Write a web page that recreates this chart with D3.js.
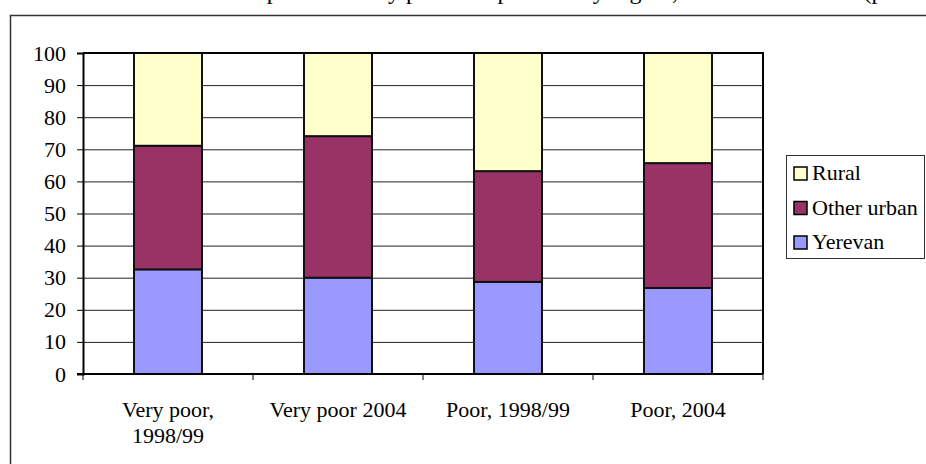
<!DOCTYPE html>
<html><head><meta charset="utf-8">
<script src="https://cdn.jsdelivr.net/npm/d3@7"></script>
<style>body{margin:0;background:#fff}svg{display:block}text{font-family:"Liberation Serif","Times New Roman",serif}</style>
</head><body><svg id="c" width="926" height="464"></svg>
<script>
const categories = ["Very poor, 1998/99", "Very poor 2004", "Poor, 1998/99", "Poor, 2004"];
const categoryLines = [["Very poor,", "1998/99"], ["Very poor 2004"], ["Poor, 1998/99"], ["Poor, 2004"]];
const seriesNames = ["Yerevan", "Other urban", "Rural"];
const yerevan = [32.6, 30.0, 28.7, 26.8];
const otherUrban = [38.5, 44.1, 34.5, 38.9];
const rural = [28.9, 25.9, 36.8, 34.3];
const colors = ["#9999FF", "#993366", "#FFFFCC"];
const yTicks = [0, 10, 20, 30, 40, 50, 60, 70, 80, 90, 100];
const titleText = "Table 3. The poor and very poor composition by region, 1998/99 and 2004 (percent)";

const FONT = "Liberation Serif, Times New Roman, serif";
const FS = 22;
const svg = d3.select("#c");
const L = 83, R = 763, T = 53, B = 374;

// title (mostly cut off above the image, as in the reference)
svg.append("text").attr("x", 950).attr("y", -1).attr("text-anchor", "end")
  .attr("font-family", FONT).attr("font-size", 24).attr("fill", "#000").text(titleText);

// outer chart border
svg.append("path").attr("d", "M10.5,470 V15.5 H930").attr("fill", "none")
  .attr("stroke", "#333").attr("stroke-width", 1.5);

const x = d3.scaleBand().domain(categories).range([L, R]).paddingInner(0.6).paddingOuter(0.3);
const y = d3.scaleLinear().domain([0, 100]).range([B, T]);

// gridlines
svg.append("g").selectAll("line").data(yTicks.filter(t => t > 0 && t < 100)).join("line")
  .attr("x1", L).attr("x2", R).attr("y1", d => y(d) + 0.5).attr("y2", d => y(d) + 0.5)
  .attr("stroke", "#222").attr("stroke-width", 1);

// stacked data
const rows = categories.map((c, i) => ({cat: c, "Yerevan": yerevan[i], "Other urban": otherUrban[i], "Rural": rural[i]}));
const stack = d3.stack().keys(seriesNames)(rows);
const gBars = svg.append("g");
stack.forEach((s, si) => {
  gBars.selectAll(null).data(s).join("rect")
    .attr("x", d => x(d.data.cat))
    .attr("width", x.bandwidth())
    .attr("y", d => y(d[1]))
    .attr("height", d => y(d[0]) - y(d[1]))
    .attr("fill", colors[si]).attr("stroke", "#111").attr("stroke-width", 2);
});

// plot border (top, right)
svg.append("path").attr("d", `M${L},${T} H${R} V${B}`).attr("fill", "none")
  .attr("stroke", "#000").attr("stroke-width", 2);

// y axis
const yAxis = svg.append("g").attr("transform", `translate(${L},0)`)
  .call(d3.axisLeft(y).tickValues(yTicks).tickSize(6).tickPadding(11));
yAxis.attr("font-family", FONT).attr("font-size", FS);
yAxis.select(".domain").attr("stroke", "#000").attr("stroke-width", 2);
yAxis.selectAll(".tick line").attr("stroke", "#000");
yAxis.selectAll(".tick text").attr("font-size", FS).attr("font-family", FONT).attr("fill", "#000");

// x axis
const xAxis = svg.append("g").attr("transform", `translate(0,${B})`);
xAxis.append("line").attr("x1", L - 6).attr("x2", R).attr("y1", 0).attr("y2", 0)
  .attr("stroke", "#000").attr("stroke-width", 2);
const bTicks = [L].concat(categories.slice(1).map(c => x(c) - (x.step() - x.bandwidth()) / 2)).concat([R]);
xAxis.selectAll("line.t").data(bTicks).join("line").attr("class", "t")
  .attr("x1", d => d).attr("x2", d => d).attr("y1", 0).attr("y2", 6)
  .attr("stroke", "#000").attr("stroke-width", 1);
categories.forEach((c, i) => {
  const cx = x(c) + x.bandwidth() / 2;
  const t = xAxis.append("text").attr("text-anchor", "middle").attr("font-family", FONT)
    .attr("font-size", FS).attr("fill", "#000").attr("x", cx).attr("y", 43);
  categoryLines[i].forEach((ln, j) => t.append("tspan").attr("x", cx).attr("dy", j ? 26 : 0).text(ln));
});

// legend
const lg = svg.append("g");
lg.append("rect").attr("x", 786.5).attr("y", 155.5).attr("width", 138).attr("height", 103)
  .attr("fill", "#fff").attr("stroke", "#333").attr("stroke-width", 1);
const legendOrder = ["Rural", "Other urban", "Yerevan"];
legendOrder.forEach((n, i) => {
  const cy = 173 + i * 34.5;
  lg.append("rect").attr("x", 794).attr("y", cy - 6).attr("width", 13).attr("height", 13)
    .attr("fill", colors[seriesNames.indexOf(n)]).attr("stroke", "#000").attr("stroke-width", 1.5);
  lg.append("text").attr("x", 812).attr("y", cy + 7).attr("font-family", FONT)
    .attr("font-size", FS).attr("fill", "#000").text(n);
});
</script></body></html>
